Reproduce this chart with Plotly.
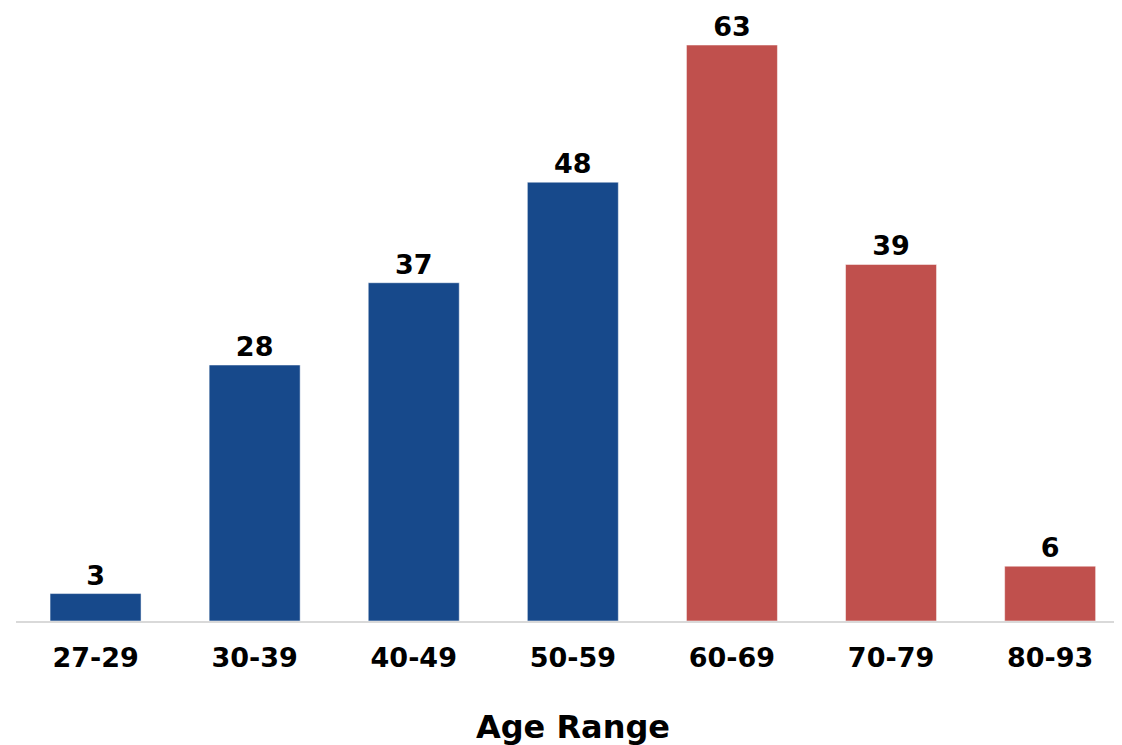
import plotly.graph_objects as go

categories = ["27-29", "30-39", "40-49", "50-59", "60-69", "70-79", "80-93"]
values = [3, 28, 37, 48, 63, 39, 6]
bar_colors = ["#17498B", "#17498B", "#17498B", "#17498B", "#C0504D", "#C0504D", "#C0504D"]

font_family = "DejaVu Sans"

fig = go.Figure(
    go.Bar(
        x=categories,
        y=values,
        marker=dict(color=bar_colors, line=dict(color="rgba(255,255,255,0.5)", width=1)),
        text=[str(v) for v in values],
        textposition="outside",
        textfont=dict(family=font_family, size=27, color="black", weight="bold"),
        cliponaxis=False,
    )
)

fig.update_layout(
    width=1122,
    height=745,
    margin=dict(l=8, r=0, t=0, b=132),
    plot_bgcolor="white",
    paper_bgcolor="white",
    bargap=0.428,
    showlegend=False,
    font=dict(family=font_family, color="black"),
)

fig.update_xaxes(
    range=[-0.5, 6.502],
    showline=True,
    linecolor="#d9d9d9",
    linewidth=1.5,
    showgrid=False,
    ticks="",
    ticklabelstandoff=12,
    tickfont=dict(family=font_family, size=27, color="black", weight="bold"),
    title=dict(text="Age Range", font=dict(family=font_family, size=32, color="black", weight="bold"), standoff=43),
)

fig.update_yaxes(
    range=[0, 67.05],
    visible=False,
    showgrid=False,
    zeroline=False,
)

fig.write_html("out.html")
